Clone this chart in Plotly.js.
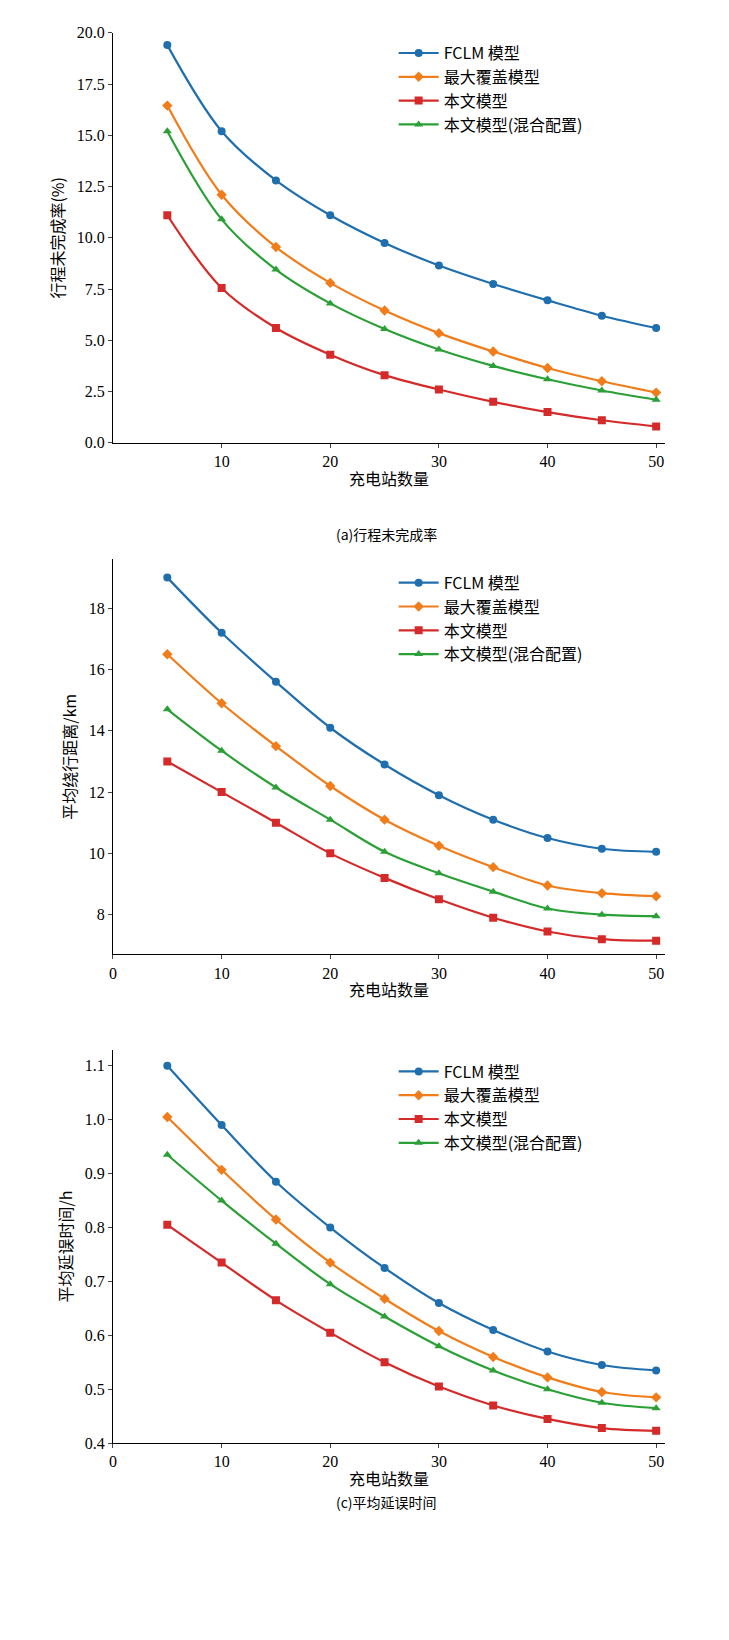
<!DOCTYPE html>
<html>
<head>
<meta charset="utf-8">
<script src="https://cdn.plot.ly/plotly-3.0.1.min.js"></script>
<style>body{margin:0;background:#fff}#chart{width:729px;height:1640px}</style>
</head>
<body>
<div id="chart"></div>
<script>
// Charging stations
var stations = [5, 10, 15, 20, 25, 30, 35, 40, 45, 50];
var seriesNames = ['FCLM 模型', '最大覆盖模型', '本文模型', '本文模型(混合配置)'];

// (a) trip non-completion rate (%)
var rateFclm  = [19.4, 15.2, 12.8, 11.1, 9.75, 8.65, 7.75, 6.95, 6.2, 5.6];
var rateMax   = [16.45, 12.1, 9.55, 7.8, 6.45, 5.35, 4.45, 3.65, 3.0, 2.45];
var rateOurs  = [11.1, 7.55, 5.6, 4.3, 3.3, 2.6, 2.0, 1.5, 1.1, 0.8];
var rateMixed = [15.2, 10.9, 8.45, 6.8, 5.55, 4.55, 3.75, 3.1, 2.55, 2.1];

// (b) average detour distance (km)
var distFclm  = [19.0, 17.2, 15.6, 14.1, 12.9, 11.9, 11.1, 10.5, 10.15, 10.05];
var distMax   = [16.5, 14.9, 13.5, 12.2, 11.1, 10.25, 9.55, 8.95, 8.7, 8.6];
var distOurs  = [13.0, 12.0, 11.0, 10.0, 9.2, 8.5, 7.9, 7.45, 7.2, 7.15];
var distMixed = [14.7, 13.35, 12.15, 11.1, 10.05, 9.35, 8.75, 8.2, 8.0, 7.95];

// (c) average delay time (h)
var delayFclm  = [1.10, 0.99, 0.885, 0.80, 0.725, 0.66, 0.61, 0.57, 0.545, 0.535];
var delayMax   = [1.005, 0.907, 0.815, 0.735, 0.668, 0.608, 0.56, 0.522, 0.495, 0.485];
var delayOurs  = [0.805, 0.735, 0.665, 0.605, 0.55, 0.505, 0.47, 0.445, 0.428, 0.423];
var delayMixed = [0.935, 0.85, 0.77, 0.695, 0.635, 0.58, 0.535, 0.50, 0.475, 0.465];

var colors = ['#1f6fae', '#f07d1a', '#d42a2a', '#2aa036'];
var symbols = ['circle', 'diamond', 'square', 'triangle-up'];

var data = [];
function addPanel(sets, n) {
  var sfx = n === 1 ? '' : String(n);
  sets.forEach(function (ys, i) {
    data.push({
      x: stations, y: ys, type: 'scatter', mode: 'lines+markers',
      name: seriesNames[i],
      xaxis: 'x' + sfx, yaxis: 'y' + sfx,
      legend: 'legend' + sfx,
      line: {color: colors[i], width: 2.2, shape: 'spline'},
      marker: {color: colors[i], symbol: symbols[i], size: 8}
    });
  });
}
addPanel([rateFclm, rateMax, rateOurs, rateMixed], 1);
addPanel([distFclm, distMax, distOurs, distMixed], 2);
addPanel([delayFclm, delayMax, delayOurs, delayMixed], 3);

var serif = 'Liberation Serif, Noto Sans CJK SC, serif';
var cjk = 'Noto Sans CJK SC, sans-serif';

function xax(anchor, show0) {
  return {
    anchor: anchor, domain: [0.155, 0.912], range: [0, 50.8],
    tickvals: show0 ? [0, 10, 20, 30, 40, 50] : [10, 20, 30, 40, 50],
    showline: true, linecolor: '#000', linewidth: 1, ticks: 'outside', ticklen: 4,
    showgrid: false, zeroline: false, tickfont: {family: serif, size: 16, color: '#000'},
    title: {text: '充电站数量', font: {family: cjk, size: 16, color: '#000'}, standoff: 4}
  };
}
function yax(anchor, domain, range, dtick, fmt, title) {
  return {
    anchor: anchor, domain: domain, range: range, dtick: dtick, tickformat: fmt,
    showline: true, linecolor: '#000', linewidth: 1, ticks: 'outside', ticklen: 4,
    showgrid: false, zeroline: false, tickfont: {family: serif, size: 16, color: '#000'},
    title: {text: title, font: {family: cjk, size: 16, color: '#000'}, standoff: 8}
  };
}
function leg(y) {
  return {x: 0.54, y: y, xanchor: 'left', yanchor: 'top', bgcolor: 'rgba(0,0,0,0)',
    font: {family: cjk, size: 16, color: '#000'}, tracegroupgap: 0, itemwidth: 40};
}

var layout = {
  width: 729, height: 1640,
  margin: {l: 0, r: 0, t: 0, b: 0},
  paper_bgcolor: '#fff', plot_bgcolor: '#fff',
  xaxis: xax('y', false),
  yaxis: yax('x', [0.730, 0.980], [0, 20], 2.5, '.1f', '行程未完成率(%)'),
  xaxis2: xax('y2', true),
  yaxis2: yax('x2', [0.418, 0.659], [6.7, 19.6], 2, 'd', '平均绕行距离/km'),
  xaxis3: xax('y3', true),
  yaxis3: yax('x3', [0.120, 0.360], [0.4, 1.13], 0.1, '.1f', '平均延误时间/h'),
  legend: leg(0.978),
  legend2: leg(0.655),
  legend3: leg(0.357),
  annotations: [
    {text: '(a)行程未完成率', xref: 'paper', yref: 'paper', x: 0.53, y: 1 - 522 / 1640,
      showarrow: false, font: {family: cjk, size: 14, color: '#000'}},
    {text: '(c)平均延误时间', xref: 'paper', yref: 'paper', x: 0.53, y: 1 - 1514 / 1640,
      showarrow: false, font: {family: cjk, size: 14, color: '#000'}}
  ]
};

Plotly.newPlot('chart', data, layout, {staticPlot: true});
</script>
</body>
</html>
